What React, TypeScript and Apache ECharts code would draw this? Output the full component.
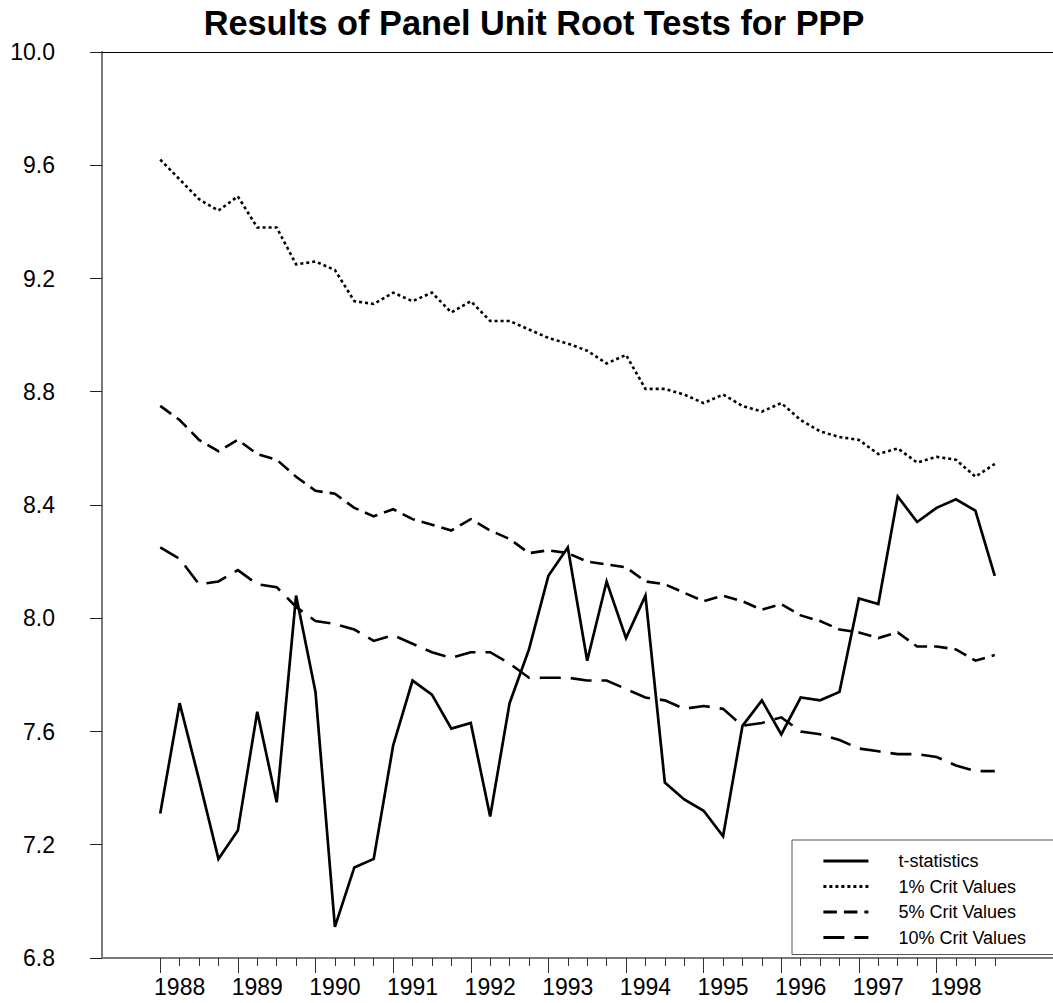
import React, { useEffect, useRef } from "react";
import * as echarts from "echarts";

// ---- Data ----
const years = ["1988", "1989", "1990", "1991", "1992", "1993", "1994", "1995", "1996", "1997", "1998"];
const quarterNames = ["Q1", "Q2", "Q3", "Q4"];
const seriesNames = ["t-statistics", "1% Crit Values", "5% Crit Values", "10% Crit Values"];

const tStat = [
  7.31, 7.70, 7.43, 7.15, 7.25, 7.67, 7.35, 8.08, 7.74, 6.91,
  7.12, 7.15, 7.55, 7.78, 7.73, 7.61, 7.63, 7.30, 7.70, 7.89,
  8.15, 8.25, 7.85, 8.13, 7.93, 8.08, 7.42, 7.36, 7.32, 7.23,
  7.62, 7.71, 7.59, 7.72, 7.71, 7.74, 8.07, 8.05, 8.43, 8.34,
  8.39, 8.42, 8.38, 8.15,
];
const crit1 = [
  9.62, 9.55, 9.48, 9.44, 9.49, 9.38, 9.38, 9.25, 9.26, 9.23,
  9.12, 9.11, 9.15, 9.12, 9.15, 9.08, 9.12, 9.05, 9.05, 9.02,
  8.99, 8.97, 8.945, 8.90, 8.93, 8.81, 8.81, 8.79, 8.76, 8.79,
  8.75, 8.73, 8.76, 8.70, 8.66, 8.64, 8.63, 8.58, 8.60, 8.55,
  8.57, 8.56, 8.50, 8.545,
];
const crit5 = [
  8.75, 8.70, 8.63, 8.59, 8.63, 8.58, 8.56, 8.50, 8.45, 8.44,
  8.39, 8.36, 8.385, 8.35, 8.33, 8.31, 8.35, 8.31, 8.28, 8.23,
  8.24, 8.23, 8.20, 8.19, 8.18, 8.13, 8.12, 8.09, 8.06, 8.08,
  8.06, 8.03, 8.05, 8.01, 7.99, 7.96, 7.95, 7.93, 7.95, 7.90,
  7.90, 7.89, 7.85, 7.87,
];
const crit10 = [
  8.25, 8.21, 8.12, 8.13, 8.17, 8.12, 8.11, 8.04, 7.99, 7.98,
  7.96, 7.92, 7.94, 7.91, 7.88, 7.86, 7.88, 7.88, 7.84, 7.79,
  7.79, 7.79, 7.78, 7.78, 7.75, 7.72, 7.71, 7.68, 7.69, 7.68,
  7.62, 7.63, 7.65, 7.60, 7.59, 7.57, 7.54, 7.53, 7.52, 7.52,
  7.51, 7.48, 7.46, 7.46,
];

const Y_MIN = 6.8;
const Y_MAX = 10.0;
const Y_STEP = 0.4;

// ---- Axis categories (quarters, with empty padding slots at both ends) ----
const PAD_LEFT = 3;
const PAD_RIGHT = 3;
const quarters: string[] = [];
years.forEach((y) => quarterNames.forEach((q) => quarters.push(`${y}${q}`)));
const categories: string[] = [
  ...Array.from({ length: PAD_LEFT }, (_, k) => `padL${k}`),
  ...quarters,
  ...Array.from({ length: PAD_RIGHT }, (_, k) => `padR${k}`),
];
const isQuarter = (v: string) => /Q\d$/.test(v);

const FONT = "'Liberation Sans', Arial, Helvetica, sans-serif";

const toData = (vals: number[]) => vals.map((v, i) => [i + PAD_LEFT, v]);

export default function App() {
  const ref = useRef<HTMLDivElement>(null);

  useEffect(() => {
    if (!ref.current) return;
    const chart = echarts.init(ref.current, undefined, { renderer: "svg" });

    const baseCat = {
      type: "category" as const,
      data: categories,
      boundaryGap: false,
      gridIndex: 0,
      splitLine: { show: false },
    };

    const lineStyles = [
      { type: "solid", width: 2.7 },
      { type: [3, 3], width: 2.6 },
      { type: [13.5, 7], width: 2.6 },
      { type: [21, 10], width: 2.6 },
    ];
    const datasets = [tStat, crit1, crit5, crit10];

    chart.setOption({
      animation: false,
      backgroundColor: "#ffffff",
      title: {
        text: "Results of Panel Unit Root Tests for PPP",
        left: 529,
        top: 1,
        textAlign: "center",
        textStyle: { fontSize: 34.3, fontWeight: "bold", color: "#000", fontFamily: FONT },
      },
      grid: { left: 102, right: -11, top: 52, bottom: 45, containLabel: false },
      xAxis: [
        {
          ...baseCat,
          position: "bottom",
          axisLine: { show: true, lineStyle: { color: "#7a7a7a", width: 2 } },
          axisTick: {
            show: true,
            length: 8,
            interval: (_i: number, v: string) => isQuarter(v),
            lineStyle: { color: "#333", width: 1 },
          },
          axisLabel: {
            show: true,
            interval: (_i: number, v: string) => /Q2$/.test(v),
            formatter: (v: string) => v.slice(0, 4),
            margin: 17,
            fontSize: 23,
            color: "#000",
            fontFamily: FONT,
          },
        },
        {
          ...baseCat,
          position: "bottom",
          axisLine: { show: false },
          axisTick: {
            show: true,
            length: 15,
            interval: (_i: number, v: string) => /Q1$/.test(v),
            lineStyle: { color: "#333", width: 1 },
          },
          axisLabel: { show: false },
        },
        {
          ...baseCat,
          position: "top",
          axisLine: { show: true, lineStyle: { color: "#000", width: 1 } },
          axisTick: { show: false },
          axisLabel: { show: false },
        },
      ],
      yAxis: {
        type: "value",
        min: Y_MIN,
        max: Y_MAX,
        interval: Y_STEP,
        axisLine: { show: true, lineStyle: { color: "#7a7a7a", width: 2 } },
        axisTick: { show: true, length: 12, lineStyle: { color: "#222", width: 1 } },
        axisLabel: {
          formatter: (v: number) => v.toFixed(1),
          margin: 47,
          fontSize: 23,
          color: "#000",
          fontFamily: FONT,
        },
        splitLine: { show: false },
      },
      legend: {
        orient: "vertical",
        left: 792,
        top: 840,
        data: seriesNames,
        itemWidth: 45,
        itemHeight: 18,
        itemGap: 7.5,
        padding: [12, 60, 8, 30],
        borderColor: "#555",
        borderWidth: 1,
        backgroundColor: "#fff",
        selectedMode: false,
        itemStyle: { color: "rgba(0,0,0,0)", borderWidth: 0, opacity: 0 },
        lineStyle: { width: 2.8 },
        textStyle: { fontSize: 18, color: "#000", fontFamily: FONT, lineHeight: 18, padding: [0, 0, 0, 25] },
      },
      series: datasets.map((vals, k) => ({
        name: seriesNames[k],
        type: "line",
        xAxisIndex: 0,
        yAxisIndex: 0,
        data: toData(vals),
        symbol: "none",
        showSymbol: false,
        z: k === 0 ? 5 : 3,
        lineStyle: { color: "#000", cap: "butt", join: "miter", ...lineStyles[k] },
        itemStyle: { color: "#000" },
      })),
    });

    return () => chart.dispose();
  }, []);

  return (
    <div
      ref={ref}
      style={{ position: "absolute", left: 0, top: 0, width: 1053, height: 1003, background: "#fff" }}
    />
  );
}
